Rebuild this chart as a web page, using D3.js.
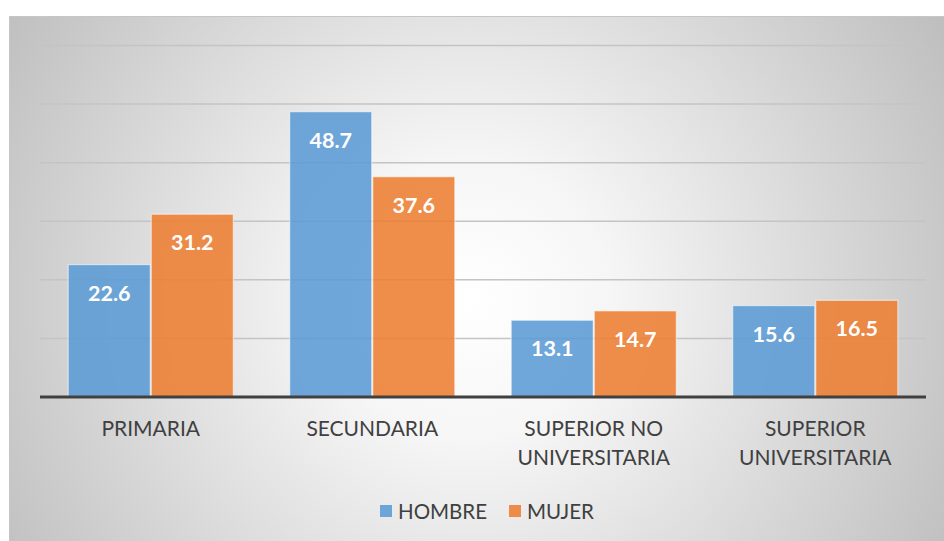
<!DOCTYPE html>
<html><head><meta charset="utf-8">
<script src="https://cdn.jsdelivr.net/npm/d3@7"></script>
<style>html,body{margin:0;padding:0;background:#fff;}svg{display:block;}</style>
</head><body>
<svg id="c" width="944" height="541"></svg>
<script>
const categories = [["PRIMARIA"],["SECUNDARIA"],["SUPERIOR NO","UNIVERSITARIA"],["SUPERIOR","UNIVERSITARIA"]];
const seriesNames = ["HOMBRE","MUJER"];
const hombre = [22.6, 48.7, 13.1, 15.6];
const mujer = [31.2, 37.6, 14.7, 16.5];
const yTicks = [0,10,20,30,40,50,60];
const colors = ["#5b9bd5","#ed7d31"];

const FONT = "Lato, 'Open Sans', sans-serif";
const svg = d3.select("#c");
const defs = svg.append("defs");
const rg = defs.append("radialGradient").attr("id","bg").attr("gradientUnits","userSpaceOnUse")
  .attr("cx",470).attr("cy",300).attr("r",560);
rg.append("stop").attr("offset","0").attr("stop-color","#ffffff");
rg.append("stop").attr("offset","0.25").attr("stop-color","#f6f6f6");
rg.append("stop").attr("offset","1").attr("stop-color","#bdbdbd");

svg.append("rect").attr("x",9.5).attr("y",16.5).attr("width",940).attr("height",530)
  .attr("fill","url(#bg)").attr("stroke","#c6c6c6").attr("stroke-width",1);

const L=40,R=926,T=45.5,B=397;
const y = d3.scaleLinear().domain([0,60]).range([B,T]);
const keys = categories.map(c=>c.join(" "));
const x0 = d3.scaleBand().domain(keys).range([L,R]).paddingInner(0.25).paddingOuter(0.125);
const x1 = d3.scaleBand().domain(seriesNames).range([0,x0.bandwidth()]);

// gridlines
svg.append("g").selectAll("line").data(yTicks.filter(t=>t>0)).join("line")
  .attr("x1",L).attr("x2",R).attr("y1",d=>y(d)).attr("y2",d=>y(d))
  .attr("stroke","#c4c4c4").attr("stroke-width",1.5);

const data = keys.map((k,i)=>({k, vals:[hombre[i],mujer[i]]}));
const g = svg.append("g").selectAll("g").data(data).join("g")
  .attr("transform",d=>`translate(${x0(d.k)},0)`);
g.selectAll("rect").data(d=>d.vals.map((v,j)=>({v,j}))).join("rect")
  .attr("x",d=>x1(seriesNames[d.j])+0.5).attr("width",x1.bandwidth()-1)
  .attr("y",d=>y(d.v)).attr("height",d=>B-y(d.v))
  .attr("fill",d=>colors[d.j]).attr("fill-opacity",0.88)
  .attr("stroke","#ffffff").attr("stroke-opacity",0.55).attr("stroke-width",1.2);
g.selectAll("text").data(d=>d.vals.map((v,j)=>({v,j}))).join("text")
  .attr("x",d=>x1(seriesNames[d.j])+x1.bandwidth()/2)
  .attr("y",d=>y(d.v)+36)
  .attr("text-anchor","middle").attr("fill","#fff")
  .attr("font-family",FONT).attr("font-weight","bold").attr("font-size",21.5)
  .text(d=>d.v.toFixed(1));

// baseline
svg.append("line").attr("x1",L).attr("x2",R).attr("y1",B).attr("y2",B)
  .attr("stroke","#404040").attr("stroke-width",3);

// category labels
const cl = svg.append("g").selectAll("text").data(categories).join("text")
  .attr("x",(d,i)=>x0(keys[i])+x0.bandwidth()/2).attr("y",436)
  .attr("text-anchor","middle").attr("fill","#404040")
  .attr("font-family",FONT).attr("font-size",21);
cl.selectAll("tspan").data(d=>d).join("tspan")
  .attr("x",function(){return this.parentNode.getAttribute("x");})
  .attr("dy",(d,i)=>i===0?0:29).text(d=>d);

// legend
const leg = svg.append("g");
const lx=[380,509];
seriesNames.forEach((s,i)=>{
  leg.append("rect").attr("x",lx[i]).attr("y",505).attr("width",12).attr("height",12)
    .attr("fill",colors[i]).attr("fill-opacity",0.88);
  leg.append("text").attr("x",lx[i]+18).attr("y",519).attr("fill","#404040")
    .attr("font-family",FONT).attr("font-size",20.5).text(s);
});
</script>
</body></html>
